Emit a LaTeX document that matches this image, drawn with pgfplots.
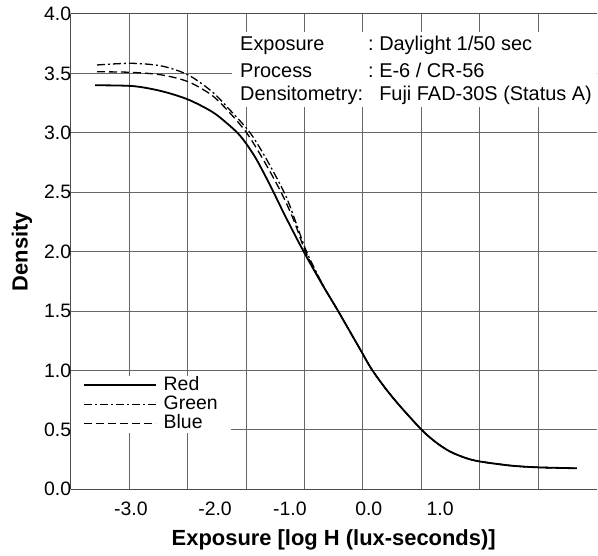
\documentclass[border=0pt]{standalone}
\usepackage{pgfplots}
\pgfplotsset{compat=1.18}
\usepackage{fontspec}
\setmainfont{Liberation Sans}

\begin{document}
\begin{tikzpicture}
\begin{axis}[
  name=ax,
  at={(0,0)}, anchor=south west,
  scale only axis,
  width=526bp, height=475.3bp,
  xmin=0, xmax=9, ymin=0, ymax=4,
  axis x line*=box, axis y line*=left,
  xtick={1,2,3,4,5,6,7,8}, xticklabels={},
  extra x ticks={1.03,2.47,3.75,5.10,6.32},
  extra x tick labels={-3.0,-2.0,-1.0,0.0,1.0},
  extra x tick style={grid=none, xticklabel style={yshift=-9bp}},
  ytick={0,0.5,1,1.5,2,2.5,3,3.5,4},
  yticklabels={0.0,0.5,1.0,1.5,2.0,2.5,3.0,3.5,4.0},
  yticklabel style={xshift=4bp},
  grid=major,
  major grid style={black!60, line width=1bp},
  axis line style={black!70, line width=1bp},
  major tick length=0pt,
  tick label style={font=\fontsize{19.5}{20}\selectfont},
  xlabel={\bfseries Exposure [log H (lux-seconds)]},
  ylabel={\bfseries Density},
  label style={font=\fontsize{22}{24}\selectfont},
  xlabel style={at={(axis description cs:0.5,-0.1172)}, anchor=base},
  ylabel style={at={(axis description cs:-0.0821,0.5)}, anchor=base},
  legend style={at={(axis cs:0.0,0.958)}, anchor=north west, draw=none, fill=white,
    inner xsep=12bp, inner ysep=0pt, row sep=0pt, column sep=6bp,
    font=\fontsize{19.5}{19.5}\selectfont,
    nodes={inner sep=1bp, text height=13.5bp, text depth=3.5bp}},
  legend image code/.code={\draw[#1] (0bp,0bp) -- (72bp,0bp);},
  legend cell align=left,
]
\addplot[black, line width=1.8bp, smooth] coordinates {
(0.42,3.400)(1.07,3.393)(1.56,3.350)(2.01,3.280)(2.41,3.180)(2.65,3.090)(2.90,2.975)(3.15,2.800)(3.40,2.570)(3.65,2.320)(3.90,2.080)(4.10,1.900)(4.32,1.710)(4.57,1.505)(4.95,1.180)(5.15,1.010)(5.40,0.840)(5.635,0.700)(6.006,0.500)(6.25,0.395)(6.49,0.318)(6.75,0.265)(6.99,0.235)(7.52,0.200)(7.98,0.185)(8.66,0.177)
};
\addlegendentry{Red}
\addplot[black, line width=1.3bp, smooth, dash pattern=on 8bp off 3bp on 2bp off 3bp] coordinates {
(0.45,3.571)(1.04,3.585)(1.56,3.562)(2.01,3.487)(2.41,3.350)(2.70,3.205)(3.07,3.000)(3.37,2.760)(3.67,2.480)(3.85,2.250)(4.01,2.030)(4.20,1.830)(4.40,1.645)(4.57,1.505)(4.95,1.180)(5.15,1.010)(5.40,0.840)(5.635,0.700)(6.006,0.500)(6.25,0.395)(6.49,0.318)(6.75,0.265)(6.99,0.235)(7.52,0.200)(7.98,0.185)(8.66,0.177)
};
\addlegendentry{Green}
\addplot[black, line width=1.3bp, smooth, dash pattern=on 8bp off 4bp] coordinates {
(0.45,3.514)(1.04,3.509)(1.56,3.487)(2.01,3.430)(2.41,3.318)(2.70,3.180)(3.01,3.000)(3.30,2.770)(3.61,2.490)(3.82,2.260)(4.00,2.020)(4.20,1.820)(4.40,1.645)(4.57,1.505)(4.95,1.180)(5.15,1.010)(5.40,0.840)(5.635,0.700)(6.006,0.500)(6.25,0.395)(6.49,0.318)(6.75,0.265)(6.99,0.235)(7.52,0.200)(7.98,0.185)(8.66,0.177)
};
\addlegendentry{Blue}
\fill[white] (axis cs:2.76,3.217) rectangle (axis cs:9,3.848);
\begin{scope}[every node/.style={inner sep=0pt, anchor=base west, font=\fontsize{20}{24}\selectfont}]
\node at (axis cs:2.897,3.693) {Exposure};
\node at (axis cs:2.897,3.465) {Process};
\node at (axis cs:2.897,3.276) {Densitometry:};
\node at (axis cs:5.087,3.693) {:};
\node at (axis cs:5.087,3.465) {:};
\node at (axis cs:5.276,3.693) {Daylight 1/50 sec};
\node at (axis cs:5.276,3.465) {E-6 / CR-56};
\node at (axis cs:5.276,3.276) {Fuji FAD-30S (Status A)};
\end{scope}
\end{axis}
\pgfresetboundingbox
\path[use as bounding box] ([shift={(-70.7bp,-65.7bp)}]ax.south west) rectangle ([shift={(1.3bp,14bp)}]ax.north east);
\end{tikzpicture}
\end{document}
